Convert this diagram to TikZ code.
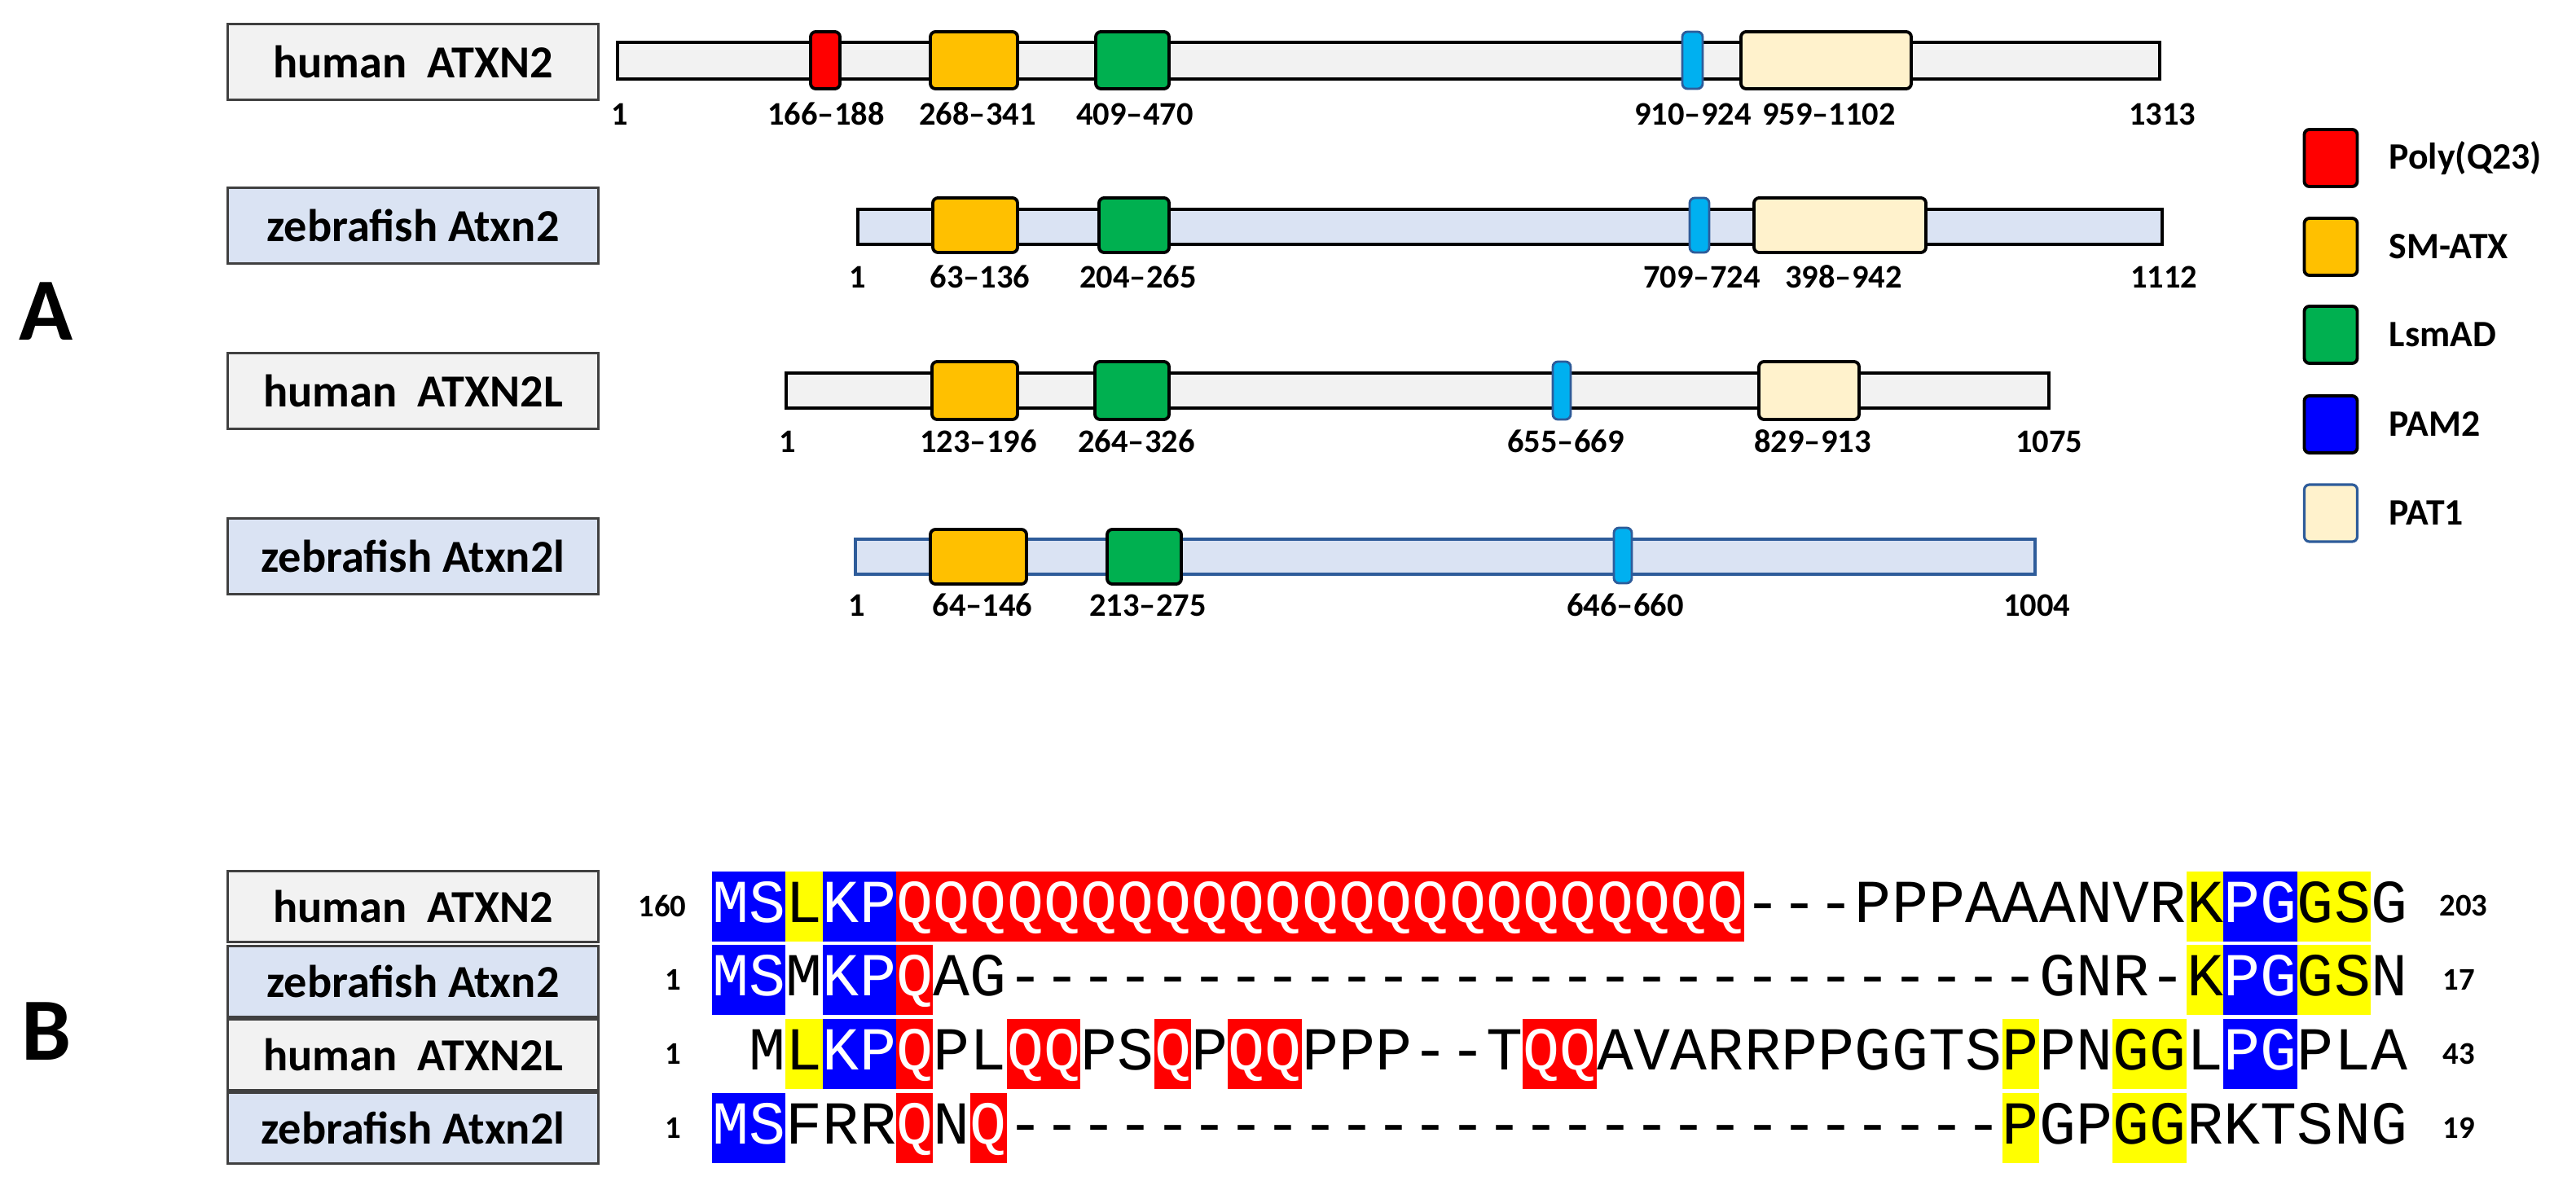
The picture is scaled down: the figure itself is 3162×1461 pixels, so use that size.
\documentclass[tikz,border=0pt]{standalone}
\usepackage{fontspec}
\setmainfont{Carlito}
\newfontfamily\monof{Liberation Mono}
\definecolor{lgray}{HTML}{F2F2F2}
\definecolor{lblue}{HTML}{DAE3F3}
\definecolor{cred}{HTML}{FF0000}
\definecolor{cyel}{HTML}{FFC000}
\definecolor{cgrn}{HTML}{00B050}
\definecolor{ccyan}{HTML}{00B0F0}
\definecolor{cpam}{HTML}{0000FF}
\definecolor{cpat}{HTML}{FFF2CC}
\definecolor{bord}{HTML}{2E5C9A}
\definecolor{hyel}{HTML}{FFFF00}
\begin{document}
\begin{tikzpicture}[x=0.01cm,y=-0.01cm,
  lab/.style={draw=black!75,line width=0.8pt,inner sep=0pt,minimum width=4.55cm,minimum height=0.93cm,font=\fontsize{16}{18}\selectfont\bfseries},
  labB/.style={lab,minimum height=0.87cm},
  bar/.style={draw=black,line width=1.1pt,inner sep=0pt},
  dom/.style={draw=black,line width=1.1pt,rounded corners=1.8pt,inner sep=0pt},
  pam/.style={dom,fill=ccyan,draw=bord,line width=0.8pt},
  num/.style={font=\fontsize{11.5}{13}\selectfont\bfseries,inner sep=0pt},
  leg/.style={font=\fontsize{13}{15}\selectfont\bfseries,anchor=west,inner sep=0pt},
  legbox/.style={dom,minimum width=0.65cm,minimum height=0.7cm},
  big/.style={font=\fontsize{31}{34}\selectfont\bfseries,inner sep=0pt},
  res/.style={inner sep=0pt,minimum width=0.4525cm,minimum height=0.86cm,text height=0.62cm,text depth=0.24cm,font=\fontsize{21.3}{22}\monof},
  sb/.style={fill=cpam,text=white},
  sy/.style={fill=hyel,text=black},
  sr/.style={fill=cred,text=white},
  sn/.style={text=black},
  bnum/.style={font=\fontsize{11}{13}\selectfont\bfseries,inner sep=0pt}]
\useasboundingbox (0,0) rectangle (3162,1461);
\newcommand\seg[7]{\node[#6,minimum width={(#3-#2)*0.01cm},minimum height={(#5-#4)*0.01cm}] (#1) at ({(#2+#3)/2},{(#4+#5)/2}) {#7};}
% ---------- A ----------
\node[big] (A) at (57,382) {A};
\node[lab,fill=lgray] (l1) at (507,76) {human\ \ ATXN2};
\node[lab,fill=lblue] (l2) at (507,277) {zebrafish Atxn2};
\node[lab,fill=lgray] (l3) at (507,480) {human\ \ ATXN2L};
\node[lab,fill=lblue] (l4) at (507,683) {zebrafish Atxn2l};
% row1
\seg{b1}{758}{2651}{52}{97}{bar,fill=lgray}{}
\seg{d11}{995}{1031}{39}{109}{dom,fill=cred}{}
\seg{d12}{1142}{1249}{39}{109}{dom,fill=cyel}{}
\seg{d13}{1345}{1435}{39}{109}{dom,fill=cgrn}{}
\seg{d14}{2065}{2090}{39}{109}{pam}{}
\seg{d15}{2137}{2346}{39}{109}{dom,fill=cpat}{}
\node[num] (n10) at (761,140) {1};
\node[num] (n11) at (1014,140) {166--188};
\node[num] (n12) at (1200,140) {268--341};
\node[num] (n13) at (1393,140) {409--470};
\node[num] (n14) at (2078,140) {910--924};
\node[num] (n15) at (2245,140) {959--1102};
\node[num] (n16) at (2654,140) {1313};
% row2
\seg{b2}{1053}{2654}{257}{300}{bar,fill=lblue}{}
\seg{d22}{1145}{1249}{243}{310}{dom,fill=cyel}{}
\seg{d23}{1349}{1435}{243}{310}{dom,fill=cgrn}{}
\seg{d24}{2074}{2098}{243}{310}{pam}{}
\seg{d25}{2153}{2364}{243}{310}{dom,fill=cpat}{}
\node[num] (n20) at (1053,340) {1};
\node[num] (n22) at (1203,340) {63--136};
\node[num] (n23) at (1397,340) {204--265};
\node[num] (n24) at (2089,340) {709--724};
\node[num] (n25) at (2263,340) {398--942};
\node[num] (n26) at (2656,340) {1112};
% row3
\seg{b3}{965}{2515}{458}{501}{bar,fill=lgray}{}
\seg{d32}{1144}{1249}{444}{515}{dom,fill=cyel}{}
\seg{d33}{1344}{1435}{444}{515}{dom,fill=cgrn}{}
\seg{d34}{1906}{1928}{444}{515}{pam}{}
\seg{d35}{2159}{2282}{444}{515}{dom,fill=cpat}{}
\node[num] (n30) at (967,542) {1};
\node[num] (n32) at (1201,542) {123--196};
\node[num] (n33) at (1395,542) {264--326};
\node[num] (n34) at (1922,542) {655--669};
\node[num] (n35) at (2225,542) {829--913};
\node[num] (n36) at (2515,542) {1075};
% row4
\seg{b4}{1050}{2498}{662}{705}{bar,fill=lblue,draw=bord,line width=0.9pt}{}
\seg{d42}{1142}{1260}{650}{717}{dom,fill=cyel}{}
\seg{d43}{1359}{1450}{650}{717}{dom,fill=cgrn}{}
\seg{d44}{1981}{2003}{648}{716}{pam}{}
\node[num] (n40) at (1052,743) {1};
\node[num] (n42) at (1206,743) {64--146};
\node[num] (n43) at (1409,743) {213--275};
\node[num] (n44) at (1995,743) {646--660};
\node[num] (n46) at (2500,743) {1004};
% legend
\node[legbox,fill=cred] (g1) at (2861,194) {};
\node[legbox,fill=cyel] (g2) at (2861,303) {};
\node[legbox,fill=cgrn] (g3) at (2861,411) {};
\node[legbox,fill=cpam] (g4) at (2861,521) {};
\node[legbox,fill=cpat,draw=bord,line width=0.9pt] (g5) at (2861,630) {};
\node[leg] (t1) at (2932,194) {Poly(Q23)};
\node[leg] (t2) at (2932,303) {SM-ATX};
\node[leg] (t3) at (2932,411) {LsmAD};
\node[leg] (t4) at (2932,521) {PAM2};
\node[leg] (t5) at (2932,630) {PAT1};
% ---------- B ----------
\node[big] (B) at (57,1266) {B};
\node[labB,fill=lgray] (m1) at (507,1113) {human\ \ ATXN2};
\node[labB,fill=lblue] (m2) at (507,1205) {zebrafish Atxn2};
\node[labB,fill=lgray] (m3) at (507,1295) {human\ \ ATXN2L};
\node[labB,fill=lblue] (m4) at (507,1385) {zebrafish Atxn2l};
\node[bnum] (s1) at (813,1112) {160};
\node[bnum] (s2) at (826,1203) {1};
\node[bnum] (s3) at (826,1294) {1};
\node[bnum] (s4) at (826,1385) {1};
\node[bnum] (e1) at (3024,1112) {203};
\node[bnum] (e2) at (3018,1203) {17};
\node[bnum] (e3) at (3018,1294) {43};
\node[bnum] (e4) at (3018,1385) {19};
\foreach \c/\s [count=\i from 0] in {M/sb,S/sb,L/sy,K/sb,P/sb,Q/sr,Q/sr,Q/sr,Q/sr,Q/sr,Q/sr,Q/sr,Q/sr,Q/sr,Q/sr,Q/sr,Q/sr,Q/sr,Q/sr,Q/sr,Q/sr,Q/sr,Q/sr,Q/sr,Q/sr,Q/sr,Q/sr,Q/sr,-/sn,-/sn,-/sn,P/sn,P/sn,P/sn,A/sn,A/sn,A/sn,N/sn,V/sn,R/sn,K/sy,P/sb,G/sb,G/sy,S/sy,G/sn}
  {\node[res,\s] (ra\i) at ({874+45.25*\i+22.6},1113) {\c};}
\foreach \c/\s [count=\i from 0] in {M/sb,S/sb,M/sn,K/sb,P/sb,Q/sr,A/sn,G/sn,-/sn,-/sn,-/sn,-/sn,-/sn,-/sn,-/sn,-/sn,-/sn,-/sn,-/sn,-/sn,-/sn,-/sn,-/sn,-/sn,-/sn,-/sn,-/sn,-/sn,-/sn,-/sn,-/sn,-/sn,-/sn,-/sn,-/sn,-/sn,G/sn,N/sn,R/sn,-/sn,K/sy,P/sb,G/sb,G/sy,S/sy,N/sn}
  {\node[res,\s] (rb\i) at ({874+45.25*\i+22.6},1203) {\c};}
\foreach \c/\s [count=\i from 1] in {M/sn,L/sy,K/sb,P/sb,Q/sr,P/sn,L/sn,Q/sr,Q/sr,P/sn,S/sn,Q/sr,P/sn,Q/sr,Q/sr,P/sn,P/sn,P/sn,-/sn,-/sn,T/sn,Q/sr,Q/sr,A/sn,V/sn,A/sn,R/sn,R/sn,P/sn,P/sn,G/sn,G/sn,T/sn,S/sn,P/sy,P/sn,N/sn,G/sy,G/sy,L/sn,P/sb,G/sb,P/sn,L/sn,A/sn}
  {\node[res,\s] (rc\i) at ({874+45.25*\i+22.6},1294) {\c};}
\foreach \c/\s [count=\i from 0] in {M/sb,S/sb,F/sn,R/sn,R/sn,Q/sr,N/sn,Q/sr,-/sn,-/sn,-/sn,-/sn,-/sn,-/sn,-/sn,-/sn,-/sn,-/sn,-/sn,-/sn,-/sn,-/sn,-/sn,-/sn,-/sn,-/sn,-/sn,-/sn,-/sn,-/sn,-/sn,-/sn,-/sn,-/sn,-/sn,P/sy,G/sn,P/sn,G/sy,G/sy,R/sn,K/sn,T/sn,S/sn,N/sn,G/sn}
  {\node[res,\s] (rd\i) at ({874+45.25*\i+22.6},1385) {\c};}
\end{tikzpicture}
\end{document}
